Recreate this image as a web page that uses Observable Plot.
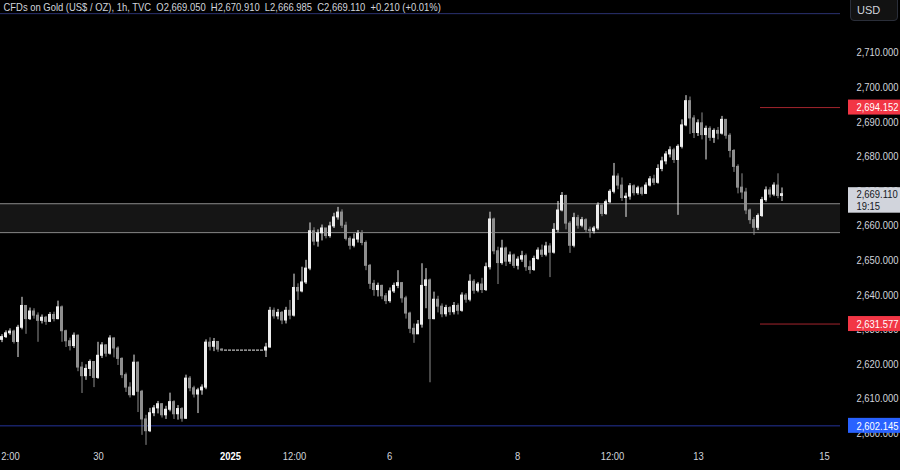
<!DOCTYPE html>
<html><head><meta charset="utf-8">
<script src="https://cdn.jsdelivr.net/npm/d3@7"></script>
<script src="https://cdn.jsdelivr.net/npm/@observablehq/plot@0.6"></script>
<style>
html,body{margin:0;padding:0;background:#000;overflow:hidden;}
#wrap{position:relative;width:900px;height:470px;}
#usd{position:absolute;left:850px;top:-1px;width:46px;height:20px;border:1px solid #2a2e39;border-radius:0 0 4px 4px;background:#121212;color:#d1d4dc;font:11px 'Liberation Sans',Arial,sans-serif;line-height:21px;text-indent:6px;}
</style></head><body>
<div id="wrap"><div id="chart"></div><div id="usd">USD</div></div>
<script>
// ---- data ----
const header = "CFDs on Gold (US$ / OZ), 1h, TVC  O2,669.050  H2,670.910  L2,666.985  C2,669.110  +0.210 (+0.01%)";
const firstOpen = 2627.0;
const closes = [2627.8,2628.9,2629.4,2626.4,2630.5,2636.8,2633.0,2635.2,2634.0,2632.5,
2633.4,2632.2,2634.2,2633.0,2636.4,2629.5,2626.6,2625.2,2628.2,2619.0,
2616.5,2618.6,2620.6,2616.0,2622.4,2625.4,2623.0,2627.4,2624.5,2621.5,
2616.8,2613.2,2611.0,2620.4,2612.0,2604.0,2600.6,2605.8,2607.2,2608.4,
2605.2,2606.8,2609.0,2605.5,2607.0,2604.2,2615.8,2613.0,2611.2,2612.4,
2613.2,2626.2,2625.0,2626.4,2624.2,2623.9,2623.9,2623.9,2623.9,2623.9,
2623.9,2623.9,2623.9,2623.9,2623.9,2623.9,2624.8,2635.4,2633.8,2634.8,
2632.6,2635.4,2634.0,2642.0,2641.0,2643.6,2647.6,2658.4,2655.4,2657.8,
2659.2,2657.0,2659.8,2662.4,2663.8,2660.0,2656.2,2654.2,2656.0,2657.6,
2655.0,2648.4,2643.2,2641.4,2642.6,2639.6,2638.2,2641.0,2642.6,2643.4,
2639.0,2634.6,2630.2,2628.6,2631.4,2642.6,2644.2,2633.0,2638.6,2636.6,
2634.4,2636.2,2635.0,2636.8,2635.4,2639.8,2638.6,2643.8,2641.2,2643.0,
2641.4,2648.0,2661.8,2652.6,2649.2,2653.4,2649.6,2651.4,2648.4,2650.2,
2651.2,2648.0,2647.2,2650.4,2652.8,2651.6,2654.0,2652.2,2658.8,2664.4,
2668.6,2660.6,2654.2,2662.2,2660.0,2661.6,2658.8,2658.4,2659.2,2665.8,
2663.4,2666.8,2669.8,2674.2,2671.6,2668.0,2668.4,2671.4,2669.4,2670.8,
2669.2,2671.6,2673.4,2672.4,2676.4,2678.6,2680.6,2681.8,2679.0,2682.8,
2689.0,2696.0,2691.0,2686.8,2689.6,2686.2,2688.0,2685.4,2687.4,2686.6,
2690.6,2686.0,2681.6,2677.0,2671.0,2669.6,2664.4,2661.6,2659.4,2662.8,
2667.4,2670.2,2669.0,2671.6,2668.6,2669.11];
const highs = [2628.5,2629.6,2630.2,2629.8,2631.2,2639.3,2636.4,2636.2,2636.0,2634.8,
2634.2,2633.8,2634.9,2635.0,2638.2,2636.8,2629.8,2627.5,2629.0,2628.4,
2620.5,2619.8,2621.2,2620.5,2626.3,2626.2,2625.6,2628.2,2627.6,2625.0,
2621.8,2617.4,2614.6,2622.6,2620.6,2612.4,2605.2,2607.2,2608.0,2609.2,
2608.6,2607.8,2611.6,2609.4,2608.0,2607.4,2616.8,2616.4,2613.6,2613.0,
2614.0,2627.0,2627.6,2627.4,2625.6,2624.4,2623.9,2623.9,2623.9,2623.9,
2623.9,2623.9,2623.9,2623.9,2623.9,2623.9,2626.0,2636.4,2636.2,2635.8,
2635.2,2636.4,2638.4,2646.0,2643.2,2648.0,2650.0,2660.8,2659.4,2658.8,
2660.2,2659.0,2661.0,2663.6,2665.3,2664.6,2661.0,2656.8,2657.6,2658.6,
2658.6,2655.6,2648.8,2644.2,2643.4,2642.8,2640.4,2642.0,2643.4,2647.0,
2643.6,2639.6,2635.0,2631.6,2632.6,2649.0,2647.6,2644.6,2640.8,2639.6,
2637.4,2637.0,2636.6,2637.8,2637.4,2640.6,2640.4,2645.8,2644.4,2643.6,
2644.8,2649.2,2663.9,2662.2,2653.8,2655.8,2653.8,2652.4,2651.8,2651.0,
2652.6,2651.8,2649.8,2651.2,2653.6,2654.4,2655.2,2654.8,2660.6,2667.0,
2669.6,2668.8,2661.2,2663.6,2663.0,2662.4,2662.0,2659.6,2659.8,2666.6,
2666.0,2667.4,2670.4,2678.0,2675.0,2673.8,2669.4,2672.2,2671.8,2671.4,
2671.2,2672.4,2674.2,2674.6,2677.6,2679.8,2681.4,2682.8,2682.4,2683.4,
2690.6,2697.6,2697.2,2691.8,2690.6,2692.6,2688.8,2688.6,2688.0,2688.4,
2691.6,2690.6,2686.6,2682.0,2677.6,2675.0,2670.8,2664.8,2662.4,2663.4,
2668.2,2671.2,2671.0,2672.4,2675.0,2670.91];
const lows = [2626.2,2627.4,2628.3,2625.8,2621.9,2629.9,2628.6,2632.6,2633.0,2626.3,
2631.6,2631.2,2632.0,2632.2,2632.8,2626.3,2624.8,2623.8,2624.5,2617.8,
2611.5,2615.3,2616.4,2613.2,2615.6,2621.6,2622.0,2622.6,2621.8,2619.6,
2615.8,2611.8,2610.2,2610.8,2606.0,2599.4,2596.5,2600.2,2604.8,2605.6,
2604.4,2604.0,2606.2,2604.0,2603.8,2603.2,2604.0,2612.0,2610.2,2605.7,
2611.0,2612.6,2623.8,2623.6,2623.4,2623.6,2623.9,2623.9,2623.9,2623.9,
2623.9,2623.9,2623.9,2623.9,2623.9,2623.9,2621.9,2624.6,2633.0,2632.8,
2631.4,2631.6,2632.8,2633.6,2638.4,2640.6,2643.0,2647.0,2654.2,2653.8,
2655.6,2656.2,2656.4,2659.2,2661.6,2659.2,2655.6,2653.0,2653.6,2655.0,
2654.2,2647.0,2641.6,2639.6,2639.4,2638.6,2637.2,2637.6,2640.4,2641.8,
2637.6,2633.0,2628.8,2626.0,2629.6,2630.4,2636.0,2614.6,2632.8,2634.8,
2633.4,2633.6,2634.0,2634.2,2634.2,2635.0,2637.6,2638.0,2640.2,2640.6,
2640.4,2641.0,2647.2,2651.6,2643.0,2648.6,2648.2,2648.8,2647.6,2647.2,
2649.4,2646.8,2646.0,2646.8,2650.0,2650.8,2651.0,2645.0,2651.8,2658.0,
2664.0,2658.8,2652.0,2653.6,2659.0,2659.4,2658.0,2656.4,2657.6,2658.6,
2662.6,2663.0,2666.4,2669.2,2670.4,2667.0,2662.4,2667.4,2668.6,2668.8,
2668.6,2669.0,2671.2,2671.6,2672.0,2675.6,2677.6,2679.6,2678.0,2663.0,
2682.2,2688.6,2686.4,2685.2,2685.8,2684.8,2679.0,2684.4,2683.8,2684.8,
2686.2,2685.0,2679.6,2675.4,2669.2,2667.6,2663.2,2660.4,2657.2,2658.6,
2662.4,2666.8,2668.0,2668.4,2667.8,2666.99];
const timeTickBars   = [2.25, 24.25, 57.25, 73.25, 97, 129, 152.75, 174.25, 205.75];
const timeTickLabels = ["2:00","30","2025","12:00","6","8","12:00","13","15"];
const priceTicks = [2600,2610,2620,2630,2640,2650,2660,2670,2680,2690,2700,2710];
const zoneTop = 2666.35, zoneBottom = 2658.0;
const topLevel = 2721.3;
const supportLevel = 2602.145;
const redLevels = [2694.152, 2631.577];
const lastPrice = 2669.110, lastTimeLeft = "19:15";

// ---- layout ----
const PANE_L = -0.25, PANE_R = 209.75, FULL_R = 224.75;
const LBL_L = 211.75, LBL_TXT = 213.75, RED_START = 189.75;
const FONT = "'Liberation Sans',Arial,sans-serif";
const NARROW = 0.82; // emulate a condensed UI face
const fmt = d3.format(",.3f");

const candles = closes.map((c, i) => {
  const open = i === 0 ? firstOpen : closes[i - 1];
  return {i, open, close: c, high: highs[i], low: lows[i], up: c >= open};
});
const UP = "#ededed", DOWN = "#8e8e8e";

const plot = Plot.plot({
  width: 900, height: 470,
  marginLeft: 0, marginRight: 0, marginTop: 0, marginBottom: 22,
  x: {domain: [PANE_L, FULL_R], axis: null},
  y: {domain: [2595.6, 2725.1], axis: null},
  style: {background: "#000", color: "#d1d4dc", fontFamily: FONT, fontSize: "11px"},
  marks: [
    Plot.rect([{top: zoneTop, bottom: zoneBottom}], {x1: () => PANE_L, x2: () => PANE_R, y1: d => d.bottom, y2: d => d.top, fill: "#151515"}),
    Plot.ruleY([zoneTop, zoneBottom], {x1: () => PANE_L, x2: () => PANE_R, stroke: "#8a8a8a", strokeWidth: 1}),
    Plot.ruleY([topLevel], {x1: () => PANE_L, x2: () => PANE_R, stroke: "#2b3170", strokeWidth: 1}),
    Plot.ruleY([supportLevel], {x1: () => PANE_L, x2: () => PANE_R, stroke: "#24339a", strokeWidth: 1}),
    Plot.ruleY(redLevels, {x1: () => RED_START, x2: () => PANE_R, stroke: "#a3252d", strokeWidth: 1}),
    Plot.ruleX(candles, {x: "i", y1: "low", y2: "high", stroke: d => d.up ? UP : DOWN, strokeWidth: 1, dx: 0.5}),
    Plot.rect(candles, {x1: d => d.i - 0.25, x2: d => d.i + 0.5, y1: "open", y2: "close", fill: d => d.up ? UP : DOWN, insetTop: -0.5, insetBottom: -0.5}),
    Plot.text([header], {frameAnchor: "top-left", dx: 3, dy: 2, lineAnchor: "top", textAnchor: "start", text: d => d, fill: "#d1d4dc", fontSize: 11.5}),
    Plot.text(timeTickLabels.map((t, k) => ({t, x: timeTickBars[k]})).filter(d => d.t !== "2025"), {x: "x", text: "t", frameAnchor: "bottom", dy: 11, fill: "#d1d4dc", fontSize: 11.5}),
    Plot.text(timeTickLabels.map((t, k) => ({t, x: timeTickBars[k]})).filter(d => d.t === "2025"), {x: "x", text: "t", frameAnchor: "bottom", dy: 11, fill: "#ffffff", fontSize: 11.5, fontWeight: "bold"}),
    Plot.text(priceTicks, {x: () => LBL_TXT, y: d => d, text: d => fmt(d), textAnchor: "start", fill: "#d1d4dc", fontSize: 11.5}),
    Plot.rect(redLevels, {x1: () => LBL_L, x2: () => FULL_R, y1: d => d, y2: d => d, insetTop: -7.5, insetBottom: -7.5, fill: "#f23645"}),
    Plot.text(redLevels, {x: () => LBL_TXT, y: d => d, text: d => fmt(d), textAnchor: "start", fill: "#ffffff", fontSize: 11.5}),
    Plot.rect([supportLevel], {x1: () => LBL_L, x2: () => FULL_R, y1: d => d, y2: d => d, insetTop: -7.5, insetBottom: -7.5, fill: "#2962ff"}),
    Plot.text([supportLevel], {x: () => LBL_TXT, y: d => d, text: d => fmt(d), textAnchor: "start", fill: "#ffffff", fontSize: 11.5}),
    Plot.rect([lastPrice], {x1: () => LBL_L, x2: () => FULL_R, y1: d => d, y2: d => d, insetTop: -6.5, insetBottom: -19, fill: "#d1d4dc"}),
    Plot.text([lastPrice], {x: () => LBL_TXT, y: d => d, text: d => fmt(d), textAnchor: "start", fill: "#131722", fontSize: 11.5}),
    Plot.text([lastPrice], {x: () => LBL_TXT, y: d => d, text: () => lastTimeLeft, textAnchor: "start", dy: 12, fill: "#131722", fontSize: 11.5})
  ]
});
document.getElementById("chart").appendChild(plot);
// condense every label horizontally (TradingView's UI face is narrow)
d3.select(plot).selectAll("text").each(function () {
  const L = this.getComputedTextLength();
  if (L > 0) {
    this.setAttribute("textLength", (L * NARROW).toFixed(2));
    this.setAttribute("lengthAdjust", "spacingAndGlyphs");
  }
});
</script>
</body></html>
